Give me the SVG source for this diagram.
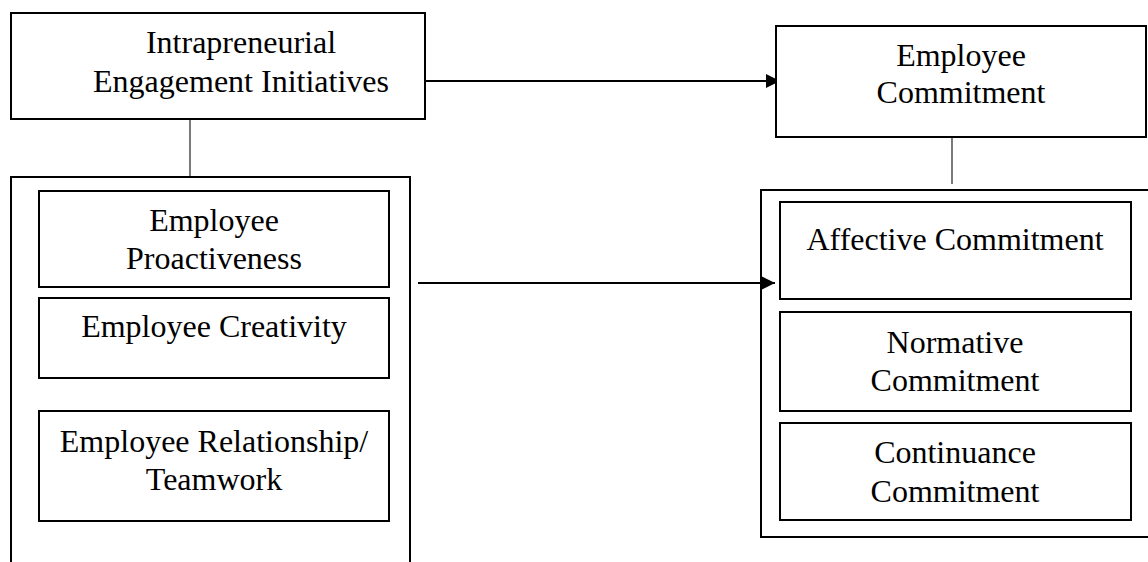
<svg xmlns="http://www.w3.org/2000/svg" width="1148" height="562" viewBox="0 0 1148 562">
<style>
.box{fill:#fff;stroke:#000;stroke-width:2}
.frame{fill:none;stroke:#000;stroke-width:2}
.t{font-family:"Liberation Serif","Times New Roman",serif;font-size:32px;fill:#000;text-anchor:middle}
.link{stroke:#333;stroke-width:1.3;fill:none}
.arrow{stroke:#000;stroke-width:2;fill:none}
</style>
<defs>
<marker id="ah" markerWidth="14" markerHeight="14" refX="14" refY="7" orient="auto" markerUnits="userSpaceOnUse">
<path d="M0,0 L14,7 L0,14 Z" fill="#000"/>
</marker>
</defs>
<g id="connectors">
<line class="link" x1="190" y1="119" x2="190" y2="177"/>
<line class="link" x1="952" y1="137" x2="952" y2="184"/>
<line class="arrow" x1="425" y1="81" x2="780" y2="81" marker-end="url(#ah)"/>
<line class="arrow" x1="418" y1="283" x2="775" y2="283" marker-end="url(#ah)"/>
</g>
<g id="intrapreneurial">
<rect class="box" x="11" y="13" width="414" height="106"/>
<text class="t" x="241" y="53">Intrapreneurial</text>
<text class="t" x="241" y="92">Engagement Initiatives</text>
</g>
<g id="left-group">
<path class="frame" d="M11,562 V177 H410 V562"/>
</g>
<g id="proactiveness">
<rect class="box" x="39" y="191" width="350" height="96"/>
<text class="t" x="214" y="231">Employee</text>
<text class="t" x="214" y="269">Proactiveness</text>
</g>
<g id="creativity">
<rect class="box" x="39" y="298" width="350" height="80"/>
<text class="t" x="214" y="337">Employee Creativity</text>
</g>
<g id="teamwork">
<rect class="box" x="39" y="411" width="350" height="110"/>
<text class="t" x="214" y="452">Employee Relationship/</text>
<text class="t" x="214" y="490">Teamwork</text>
</g>
<g id="employee-commitment">
<rect class="box" x="776" y="26" width="370" height="111"/>
<text class="t" x="961" y="66">Employee</text>
<text class="t" x="961" y="103">Commitment</text>
</g>
<g id="right-group">
<path class="frame" d="M1149,190 H761 V537 H1149"/>
</g>
<g id="affective">
<rect class="box" x="780" y="202" width="351" height="97"/>
<text class="t" x="955" y="250">Affective Commitment</text>
</g>
<g id="normative">
<rect class="box" x="780" y="312" width="351" height="99"/>
<text class="t" x="955" y="353">Normative</text>
<text class="t" x="955" y="391">Commitment</text>
</g>
<g id="continuance">
<rect class="box" x="780" y="423" width="351" height="97"/>
<text class="t" x="955" y="463">Continuance</text>
<text class="t" x="955" y="502">Commitment</text>
</g>
</svg>
